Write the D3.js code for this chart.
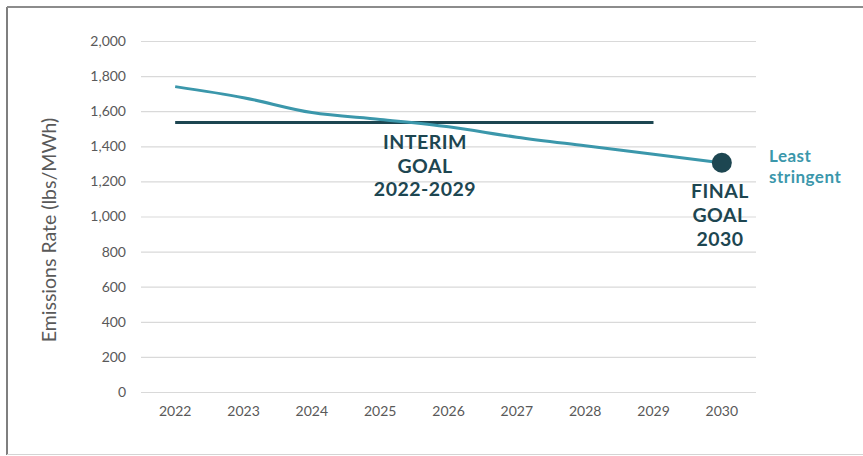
<!DOCTYPE html>
<html>
<head>
<meta charset="utf-8">
<title>Emissions Rate</title>
<style>
  body { margin: 0; background: #fff; }
  svg text { font-family: Lato, "Open Sans", sans-serif; }
</style>
</head>
<body>
<svg id="chart" width="863" height="456"></svg>
<script src="https://d3js.org/d3.v7.min.js"></script>
<script>
// data
var years = ["2022", "2023", "2024", "2025", "2026", "2027", "2028", "2029", "2030"];
var leastStringent = [1740, 1677, 1592, 1553, 1511, 1452, 1403, 1355, 1306];
var interimYears = ["2022", "2029"];
var interimGoal = [1535, 1535];
var yTicks = [0, 200, 400, 600, 800, 1000, 1200, 1400, 1600, 1800, 2000];

var svg = d3.select('#chart');

// frame
svg.append('line').attr('x1', 7).attr('y1', 7).attr('x2', 7).attr('y2', 455)
  .attr('stroke', '#7f7f7f').attr('stroke-width', 2);
svg.append('line').attr('x1', 7).attr('y1', 7).attr('x2', 863).attr('y2', 7)
  .attr('stroke', '#8c8c8c').attr('stroke-width', 2);
svg.append('line').attr('x1', 7).attr('y1', 454.5).attr('x2', 863).attr('y2', 454.5)
  .attr('stroke', '#d4d4d4').attr('stroke-width', 1);

var x = d3.scaleBand().domain(years).range([141, 756]);
var y = d3.scaleLinear().domain([0, 2000]).range([392, 41]);
var cx = function(d) { return x(d) + x.bandwidth() / 2; };

// gridlines + y labels
var yAxis = d3.axisLeft(y).tickValues(yTicks).tickSize(-(756 - 141)).tickPadding(15)
  .tickFormat(d3.format(','));
var gy = svg.append('g').attr('transform', 'translate(141,0)').call(yAxis);
gy.select('.domain').remove();
gy.selectAll('.tick line').attr('stroke', '#d9d9d9').attr('stroke-width', 1.2);
gy.selectAll('.tick text').attr('fill', '#595959').style('font-size', '14px');

// x labels
var xAxis = d3.axisBottom(x).tickSize(0).tickPadding(14);
var gx = svg.append('g').attr('transform', 'translate(0,392)').call(xAxis);
gx.select('.domain').remove();
gx.selectAll('.tick text').attr('fill', '#595959').style('font-size', '14px');

// y title
svg.append('text')
  .attr('transform', 'translate(56,230) rotate(-90)')
  .attr('text-anchor', 'middle')
  .attr('fill', '#595959')
  .style('font-size', '19.5px')
  .text('Emissions Rate (lbs/MWh)');

// interim goal line
var flat = d3.line()
  .x(function(d, i) { return cx(interimYears[i]); })
  .y(function(d) { return y(d); });
svg.append('path').datum(interimGoal)
  .attr('d', flat)
  .attr('fill', 'none')
  .attr('stroke', '#1d4651')
  .attr('stroke-width', 3);

// least stringent series
var line = d3.line()
  .x(function(d, i) { return cx(years[i]); })
  .y(function(d) { return y(d); })
  .curve(d3.curveMonotoneX);
svg.append('path').datum(leastStringent)
  .attr('d', line)
  .attr('fill', 'none')
  .attr('stroke', '#3b97ab')
  .attr('stroke-width', 3);

// final goal dot
var last = leastStringent.length - 1;
svg.append('circle')
  .attr('cx', cx(years[last]))
  .attr('cy', y(leastStringent[last]))
  .attr('r', 10)
  .attr('fill', '#1d4651');

// annotations
function block(lines, xc, y0, dy, color, size, anchor) {
  var t = svg.append('text')
    .attr('text-anchor', anchor)
    .attr('fill', color)
    .style('font-size', size + 'px')
    .style('font-weight', 'bold')
    .style('letter-spacing', '0.5px');
  lines.forEach(function(s, i) {
    t.append('tspan').attr('x', xc).attr('y', y0 + i * dy).text(s);
  });
}
block(['INTERIM', 'GOAL', '2022-2029'], 425, 149, 23.5, '#1d4651', 19.5, 'middle');
block(['FINAL', 'GOAL', '2030'], 720, 198, 24, '#1d4651', 19.5, 'middle');
block(['Least', 'stringent'], 769, 162, 20.5, '#3b97ab', 17, 'start');
</script>
</body>
</html>
